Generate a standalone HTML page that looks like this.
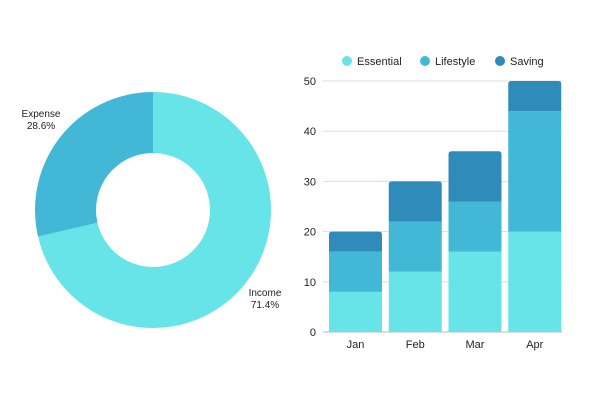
<!DOCTYPE html>
<html><head><meta charset="utf-8"><style>
html,body{margin:0;padding:0;background:#fff;}
svg{display:block;font-family:"Liberation Sans",sans-serif;}
</style></head><body>
<svg id="c" width="600" height="400" viewBox="0 0 600 400"></svg>
<script>
const donutLabels=["Income","Expense"];
const donutValues=[71.4,28.6];
const categories=["Jan","Feb","Mar","Apr"];
const seriesNames=["Essential","Lifestyle","Saving"];
const essential=[8,12,16,20];
const lifestyle=[8,10,10,24];
const saving=[4,8,10,6];
const yTicks=[0,10,20,30,40,50];
const colors=["#67e4e8","#42b8d6","#2e8bba"];
const NS="http://www.w3.org/2000/svg";
const svg=document.getElementById('c');
function mk(t,a,txt){const e=document.createElementNS(NS,t);for(const k in a)e.setAttribute(k,a[k]);if(txt!=null)e.textContent=txt;svg.appendChild(e);return e;}
// donut
const cx=153,cy=210,R=118,r=57;
const total=donutValues.reduce((a,b)=>a+b,0);
let ang=0;
const dcol=["#67e4e8","#42b8d6"];
const labelPos=[[265,296],[41,117]];
donutValues.forEach((v,i)=>{
  const a0=ang,a1=ang+v/total*2*Math.PI;ang=a1;
  const p=(a,rad)=>[cx+rad*Math.sin(a),cy-rad*Math.cos(a)];
  const large=(a1-a0)>Math.PI?1:0;
  const [x0,y0]=p(a0,R),[x1,y1]=p(a1,R),[x2,y2]=p(a1,r),[x3,y3]=p(a0,r);
  const s=mk('path',{d:`M${x0},${y0}A${R},${R} 0 ${large} 1 ${x1},${y1}L${x2},${y2}A${r},${r} 0 ${large} 0 ${x3},${y3}Z`,fill:dcol[i]});
  
  
  const [lx,ly]=labelPos[i];
  const t1=mk('text',{x:lx,y:ly,'font-size':10,fill:'#222','text-anchor':'middle'},donutLabels[i]);
  
  
  const t2=mk('text',{x:lx,y:ly+12,'font-size':10,fill:'#222','text-anchor':'middle'},v.toFixed(1)+'%');
  
  
});
// bars
const y0px=332,y50=81,x0=323,x1=562;
const yS=v=>y0px-(v/50)*(y0px-y50);
yTicks.forEach(t=>{
  const l=mk('line',{x1:x0,x2:x1,y1:yS(t),y2:yS(t),stroke:t===0?'#bbb':'#ddd','stroke-width':1});
  
  
  const tx=mk('text',{x:316,y:yS(t)+4,'font-size':11,fill:'#222','text-anchor':'end'},t);
  
  
});
const band=(x1-x0)/categories.length,bw=53;
const series=[essential,lifestyle,saving];
categories.forEach((c,i)=>{
  const bx=x0+6+i*band;
  let acc=0;
  series.forEach((s,j)=>{
    const top=yS(acc+s[i]),bot=yS(acc);acc+=s[i];
    const last=j===series.length-1;
    let el;
    if(last){const rr=3;el=mk('path',{d:`M${bx},${bot}V${top+rr}Q${bx},${top} ${bx+rr},${top}H${bx+bw-rr}Q${bx+bw},${top} ${bx+bw},${top+rr}V${bot}Z`,fill:colors[j]});}
    else el=mk('rect',{x:bx,y:top,width:bw,height:bot-top,fill:colors[j]});
    
    
  });
  const t=mk('text',{x:bx+bw/2,y:348,'font-size':11,fill:'#222','text-anchor':'middle'},c);
  
  
});
// legend
const lx=[347,425,500];
seriesNames.forEach((n,i)=>{
  const ci=mk('circle',{cx:lx[i],cy:61,r:5,fill:colors[i]});
  
  
  const t=mk('text',{x:lx[i]+10,y:65,'font-size':11,fill:'#222'},n);
  
  
});
</script>
</body></html>
